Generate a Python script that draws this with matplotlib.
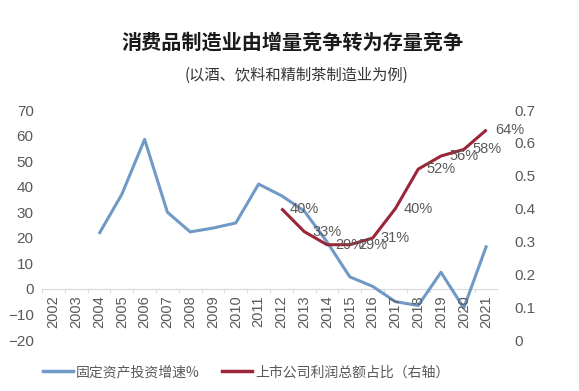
import numpy as np
import matplotlib.pyplot as plt
from matplotlib.lines import Line2D

plt.rcParams['font.family'] = ['Liberation Sans', 'Noto Sans CJK SC', 'DejaVu Sans']
CJK = ['Noto Sans CJK SC', 'DejaVu Sans']

# ───── data ─────────────────────────────────────────────────────────────
YEARS = [str(y) for y in range(2002, 2022)]
INVEST_GROWTH = [np.nan, np.nan, 21.5, 37, 58.5, 30, 22.3, 23.8, 25.8, 41,
                 36.5, 30.5, 18.4, 4.7, 1, -5, -6.5, 6.5, -7.5, 17]
PROFIT_SHARE = [np.nan] * 10 + [0.40, 0.33, 0.29, 0.29, 0.31, 0.40,
                                0.52, 0.56, 0.58, 0.64]

BLUE = "#7099c6"
RED = "#9b2638"
GRAY = "#595959"

fig = plt.figure(figsize=(5.79, 3.91), dpi=100)
ax = fig.add_axes([42 / 579, 51 / 391, 456 / 579, 230 / 391])
ax2 = ax.twinx()

x = np.arange(len(YEARS))
ax.plot(x, INVEST_GROWTH, color=BLUE, lw=2.2, solid_capstyle="butt")
ax2.plot(x, PROFIT_SHARE, color=RED, lw=2.2, solid_capstyle="butt")

# data labels for the red series
for xi, v in zip(x, PROFIT_SHARE):
    if np.isnan(v):
        continue
    ax2.annotate(f"{v:.0%}", (xi, v), xytext=(6, 0), textcoords="offset points",
                 ha="left", va="center", fontsize=10.5, color=GRAY)

ax.set_xlim(-0.5, len(YEARS) - 0.5)
ax.set_ylim(-20, 70)
ax.set_yticks(np.arange(-20, 71, 10))
ax2.set_ylim(0, 0.7)
ax2.set_yticks(np.arange(0, 0.71, 0.1))
ax2.set_yticklabels(["0"] + [f"{t:.1f}" for t in np.arange(0.1, 0.71, 0.1)])

for a in (ax, ax2):
    for s in a.spines.values():
        s.set_visible(False)
    a.tick_params(axis="y", length=0, labelsize=11, colors=GRAY)
ax.tick_params(axis="y", pad=6)
ax2.tick_params(axis="y", pad=12)

# category axis drawn at y = 0
ax.axhline(0, color="#d9d9d9", lw=0.8, zorder=0)
ax.set_xticks([])
for b in np.arange(-0.5, len(YEARS), 1):
    ax.plot([b, b], [0, -1.2], color="#d9d9d9", lw=0.8, zorder=0)
for xi, lab in zip(x, YEARS):
    ax.text(xi, -2.5, lab, rotation=90, ha="center", va="top",
            fontsize=10.5, color=GRAY)

fig.text(0.506, 0.893, "消费品制造业由增量竞争转为存量竞争", ha="center", va="center",
         fontsize=14.5, fontweight="bold", color="#1a1a1a", family=CJK)
fig.text(0.512, 0.807, "(以酒、饮料和精制茶制造业为例)", ha="center", va="center",
         fontsize=11, color="#333333", family=CJK)

handles = [Line2D([], [], color=BLUE, lw=2.5), Line2D([], [], color=RED, lw=2.5)]
fig.legend(handles, ["固定资产投资增速%", "上市公司利润总额占比（右轴）"],
           loc="center", bbox_to_anchor=(0.425, 0.048), ncol=2, frameon=False,
           prop={"family": CJK, "size": 10}, labelcolor=GRAY,
           handlelength=2.2, handletextpad=0.2, columnspacing=1.6)

fig.savefig("out.png", dpi=100)
